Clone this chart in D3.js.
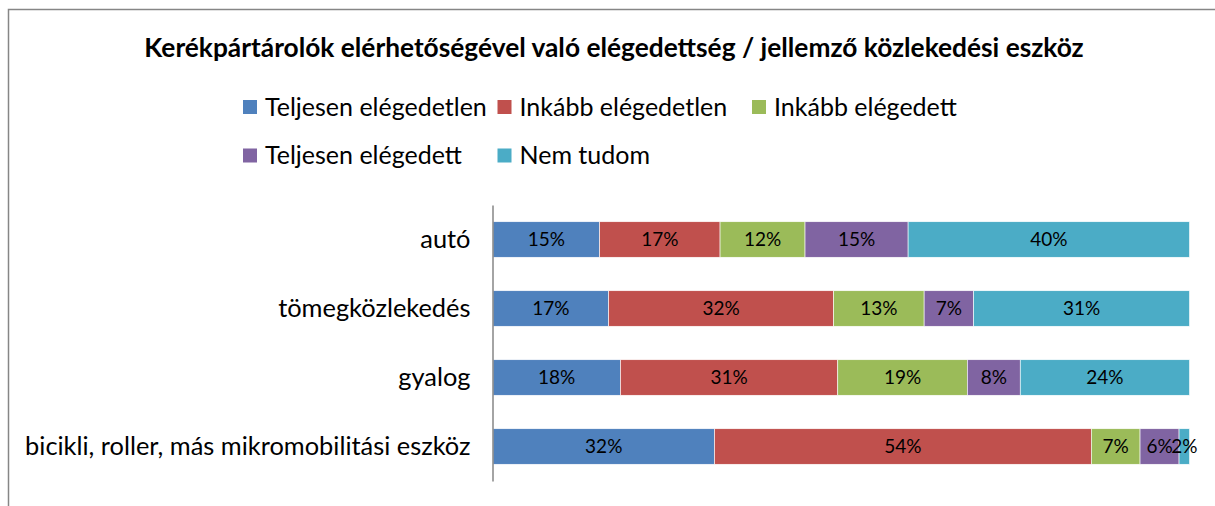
<!DOCTYPE html>
<html>
<head>
<meta charset="utf-8">
<script src="https://cdn.jsdelivr.net/npm/d3@7"></script>
<style>
  body { margin: 0; background: #fff; }
  text { font-family: Lato, "Open Sans", sans-serif; fill: #000; }
</style>
</head>
<body>
<div class="chart"></div>
<script>
// chart data
var categories = ["autó", "tömegközlekedés", "gyalog", "bicikli, roller, más mikromobilitási eszköz"];
var seriesNames = ["Teljesen elégedetlen", "Inkább elégedetlen", "Inkább elégedett", "Teljesen elégedett", "Nem tudom"];
var seriesColors = ["#4F81BD", "#C0504D", "#9BBB59", "#8064A2", "#4BACC6"];
// values per series (percent), one per category in order
var teljesenElegedetlen = [15.3, 16.6, 18.3, 31.8];
var inkabbElegedetlen = [17.3, 32.3, 31.2, 54.1];
var inkabbElegedett = [12.2, 13.0, 18.6, 7.0];
var teljesenElegedett = [14.8, 7.1, 7.6, 5.6];
var nemTudom = [40.4, 31.0, 24.3, 1.5];

var seriesValues = [teljesenElegedetlen, inkabbElegedetlen, inkabbElegedett, teljesenElegedett, nemTudom];

var svgWidth = 1215;
var svgHeight = 506;

var svg = d3.select(".chart")
    .append("svg")
    .attr("width", svgWidth)
    .attr("height", svgHeight);

// outer chart frame (runs off the right/bottom edges)
svg.append("rect")
    .attr("x", 8.5)
    .attr("y", 9.5)
    .attr("width", 1240)
    .attr("height", 520)
    .attr("fill", "none")
    .attr("stroke", "#868686")
    .attr("stroke-width", 1.5);

// title
svg.append("text")
    .attr("x", 614)
    .attr("y", 57)
    .attr("text-anchor", "middle")
    .style("font-size", "26.3px")
    .style("font-weight", "bold")
    .text("Kerékpártárolók elérhetőségével való elégedettség / jellemző közlekedési eszköz");

// legend, three columns
var legend = svg.append("g");
var legendItems = legend.selectAll("g")
    .data(seriesNames)
    .enter()
    .append("g")
    .attr("transform", (d, i) => `translate(${243 + (i % 3) * 254.5}, ${100 + Math.floor(i / 3) * 48.5})`);

legendItems.append("rect")
    .attr("width", 14)
    .attr("height", 14)
    .attr("fill", (d, i) => seriesColors[i]);

legendItems.append("text")
    .attr("x", 22)
    .attr("y", 7)
    .attr("dy", "0.35em")
    .style("font-size", "25px")
    .text(d => d);

// build stacked rows
var rows = categories.map(function (c, ci) {
    var row = { category: c };
    seriesNames.forEach(function (s, si) { row[s] = seriesValues[si][ci]; });
    return row;
});
var stacked = d3.stack().keys(seriesNames)(rows);

var x = d3.scaleLinear()
    .domain([0, 100])
    .range([493, 1189.5]);

var y = d3.scaleBand()
    .domain(categories)
    .range([205, 481])
    .paddingInner(0.485)
    .paddingOuter(0.2425);

var layers = svg.append("g")
    .selectAll("g")
    .data(stacked)
    .enter()
    .append("g")
    .attr("fill", (d, i) => seriesColors[i]);

layers.selectAll("rect")
    .data(d => d)
    .enter()
    .append("rect")
    .attr("x", d => x(d[0]))
    .attr("y", d => y(d.data.category))
    .attr("width", d => x(d[1]) - x(d[0]))
    .attr("height", y.bandwidth())
    .attr("stroke", "#fff")
    .attr("stroke-width", 0.6);

// data labels
layers.selectAll("text")
    .data(d => d.map(p => ({ p: p, v: p[1] - p[0] })))
    .enter()
    .append("text")
    .attr("x", d => (x(d.p[0]) + x(d.p[1])) / 2)
    .attr("y", d => y(d.p.data.category) + y.bandwidth() / 2)
    .attr("dy", "0.35em")
    .attr("text-anchor", "middle")
    .style("font-size", "19px")
    .text(d => Math.round(d.v) + "%");

// category axis
var leftAxis = d3.axisLeft(y).tickSize(0).tickPadding(22);
var yAxis = svg.append("g")
    .attr("transform", "translate(492.5,0)")
    .call(leftAxis);
yAxis.select(".domain")
    .attr("stroke", "#868686")
    .attr("stroke-width", 1.5);
yAxis.selectAll("text")
    .style("font-size", "25.4px")
    .style("font-family", "Lato, 'Open Sans', sans-serif")
    .attr("fill", "#000");
</script>
</body>
</html>
